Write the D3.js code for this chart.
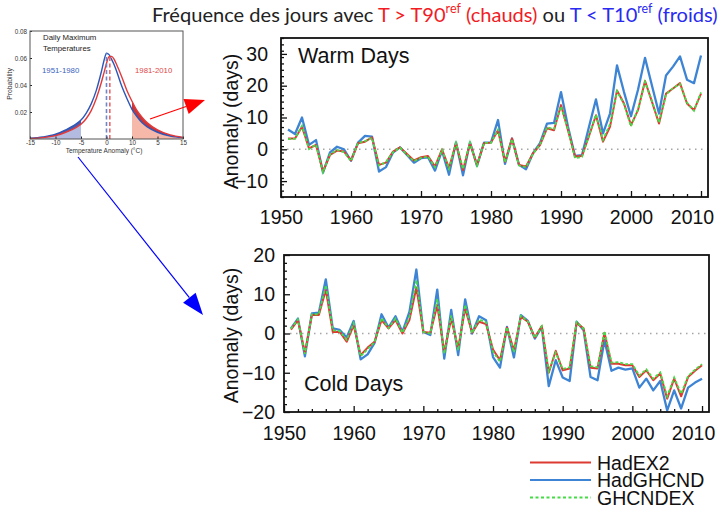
<!DOCTYPE html>
<html>
  <head>
    <meta charset="utf-8">
    <title>Warm and cold days</title>
    <script src="https://d3js.org/d3.v7.min.js"></script>
    <style>
      body { margin: 0; background: #fff; }
      svg { display: block; }
    </style>
  </head>
  <body>
    <div id="vis"></div>
    <script>
      // ---- data ----
      var years = d3.range(1951, 2011);

      var warmHadEX2 = [3.4,3.4,7.1,0.3,1.35,-7.0,-1.8,-0.4,-0.7,-3.5,
        1.9,2.4,3.75,-4.9,-4.2,-0.7,0.6,-1.5,-3.5,-2.5,
        -2.1,-5.4,0,-5.9,1.9,-6.5,1.9,-4.9,1.9,2.1,
        6.0,-3.9,3.4,-4.9,-5.4,-1.25,1.35,6.6,6.0,13.9,
        6.0,-2.3,-2.1,4.2,10.7,2.4,7.1,18.5,14.4,7.6,
        12.3,21.5,14.9,8.1,17.5,19.1,20.8,14.4,12.3,17.5];
      var warmHadGHCND = [6.2,4.8,10.0,1.4,2.9,-7.3,-1.0,0.8,0.0,-3.6,
        2.1,4.2,4.0,-7.0,-5.6,-1.0,0.6,-1.8,-4.2,-2.8,
        -2.5,-6.7,-0.4,-8.0,2.2,-8.2,2.2,-5.2,2.1,2.2,
        9.2,-4.6,3.4,-4.9,-6.25,-1.25,1.9,8.1,8.3,18.0,
        7.1,-2.1,-1.8,7.1,15.7,5.0,11.25,26.4,18.0,10.4,
        18.75,28.75,20.0,11.25,23.2,26.0,29.2,21.9,20.8,29.5];
      var warmGHCNDEX = [3.2,3.3,7.4,0.1,1.5,-7.2,-1.6,-0.2,-0.9,-3.7,
        2.0,2.6,3.6,-5.1,-4.0,-0.9,0.5,-1.7,-3.7,-2.7,
        -2.3,-5.6,-0.2,-6.1,2.0,-6.2,2.1,-5.1,2.0,2.0,
        6.2,-4.1,3.2,-5.1,-5.6,-1.4,1.5,6.9,6.4,13.5,
        6.2,-2.8,-2.4,4.4,10.9,3.0,7.9,18.3,14.2,7.2,
        12.6,21.2,15.1,8.4,17.2,19.3,20.5,14.7,12.1,17.9];

      var coldHadEX2 = [1.0,3.4,-4.9,4.7,4.7,11.1,0.4,0.4,-2.1,2.1,
        -5.5,-3.6,-2.1,3.4,1.3,3.4,0,3.4,11.7,0.4,
        0.2,7.2,-4.7,3.8,-3.8,6.4,0.2,3.0,2.4,-4.1,
        -6.8,1.5,-4.3,4.3,3.0,-1.0,1.9,-10.0,-4.4,-9.4,
        -8.9,2.7,1.3,-8.7,-8.9,0.2,-7.7,-7.7,-8.1,-8.1,
        -11.1,-9.4,-11.9,-10.2,-16.6,-11.5,-16.0,-11.1,-9.5,-8.1];
      var coldHadGHCND = [1.3,3.8,-5.8,5.1,5.3,13.8,1.3,0.9,-1.0,3.2,
        -6.6,-5.3,-2.4,4.9,1.5,4.4,0.4,5.5,16.3,0.4,
        -0.4,11.2,-6.4,6.0,-5.5,8.7,0,4.4,3.4,-6.0,
        -8.7,1.7,-6.1,4.7,3.2,-1.3,1.7,-13.4,-6.8,-11.2,
        -12.1,3.0,0.85,-11.1,-11.9,-1.7,-9.5,-8.7,-9.2,-8.9,
        -13.8,-11.5,-14.5,-12.1,-19.6,-14.5,-19.1,-13.8,-12.5,-11.5];
      var coldGHCNDEX = [1.2,3.6,-5.2,4.9,4.9,12.3,0.8,0.6,-1.6,2.6,
        -5.8,-4.0,-2.2,3.9,1.4,3.8,0.2,4.2,13.6,0.4,
        0.0,8.8,-5.2,4.6,-4.3,7.3,0.1,3.6,2.8,-4.6,
        -7.2,1.6,-4.8,4.5,3.1,-1.1,1.8,-9.6,-4.9,-9.0,
        -8.6,2.9,1.2,-8.3,-8.6,0.6,-7.4,-7.3,-7.8,-7.8,
        -10.7,-9.1,-11.5,-9.9,-16.0,-11.2,-15.4,-10.8,-9.2,-7.8];

      var seriesNames = ["HadEX2", "HadGHCND", "GHCNDEX"];
      var yearTicks = [1950, 1960, 1970, 1980, 1990, 2000, 2010];
      var warmTicks = [-10, 0, 10, 20, 30];
      var coldTicks = [-20, -10, 0, 10, 20];

      // inset: daily maximum temperature distributions
      var tempGrid = [-15,-12.5,-10,-8,-6,-5,-4,-3,-2,-1,-0.5,0,0.5,1,1.5,2,3,4,5,6,7,8,10,12.5,15];
      var prob1951 = [0.0005,0.0015,0.0035,0.0067,0.011,0.014,0.019,0.026,0.036,0.050,0.058,0.0635,0.0625,0.059,0.055,0.050,0.039,0.030,0.022,0.0165,0.012,0.009,0.005,0.0022,0.001];
      var prob1981 = [0.0004,0.001,0.0025,0.005,0.0085,0.011,0.015,0.021,0.030,0.042,0.049,0.056,0.061,0.0612,0.059,0.055,0.046,0.036,0.028,0.021,0.016,0.012,0.0068,0.003,0.0012];
      var periodMeans = [0, 0.65];
      var insetXTicks = [-15, -10, -5, 0, 5, 10, 15];
      var insetXLabels = ["-15", "-10", "-5", "0", "10", "5", "15"];
      var insetYTicks = [0.02, 0.04, 0.06, 0.08];

      var red = "#dd3a32", blue = "#3d84d4", green = "#46dc46";
      var font = "'Liberation Sans', Arial, sans-serif";

      var width = 722, height = 508;
      var svg = d3.select("#vis").append("svg")
        .attr("width", width).attr("height", height);

      // ---- title ----
      var title = svg.append("text")
        .attr("x", 152).attr("y", 22)
        .attr("font-family", "Lato, 'DejaVu Sans', sans-serif")
        .attr("font-size", 19)
        .attr("fill", "#222");
      title.append("tspan").text("Fréquence des jours avec ");
      title.append("tspan").attr("fill", "#f21c24").text("T > T90");
      title.append("tspan").attr("fill", "#f21c24").attr("font-size", "0.62em").attr("dy", "-0.75em").text("ref");
      title.append("tspan").attr("fill", "#f21c24").attr("dy", "0.465em").text(" (chauds)");
      title.append("tspan").text(" ou ");
      title.append("tspan").attr("fill", "#2a2af0").text("T < T10");
      title.append("tspan").attr("fill", "#2a2af0").attr("font-size", "0.62em").attr("dy", "-0.75em").text("ref");
      title.append("tspan").attr("fill", "#2a2af0").attr("dy", "0.465em").text(" (froids)");
      var tw = title.node().getComputedTextLength();
      title.attr("font-size", 19 * 566 / tw);

      // ---- main panels ----
      function drawPanel(p) {
        var x = d3.scaleLinear().domain([1950, 2011]).range([p.left, p.right]);
        var y = d3.scaleLinear().domain(p.yDomain).range([p.bottom, p.top]);
        var g = svg.append("g");

        g.append("line")
          .attr("x1", p.left).attr("x2", p.right)
          .attr("y1", y(0)).attr("y2", y(0))
          .attr("stroke", "#a5a5a5").attr("stroke-width", 1.4)
          .attr("stroke-dasharray", "1.5,4.5");

        var minorYears = d3.range(1952, 2011, 2).filter(function (d) { return d % 10 !== 0; });
        var minorY = d3.range(p.yDomain[0], p.yDomain[1] + 1, 2).filter(function (d) { return d % 10 !== 0; });

        function styleAxis(a) {
          a.select(".domain").remove();
          a.selectAll("line").attr("stroke", "#111").attr("stroke-width", 1.3);
          a.selectAll("text").attr("font-family", font).attr("font-size", 19.5).attr("fill", "#111");
        }

        g.append("g").attr("transform", "translate(0," + p.bottom + ")")
          .call(d3.axisBottom(x).tickValues(minorYears).tickSize(-3).tickFormat(""))
          .call(styleAxis);
        g.append("g").attr("transform", "translate(" + p.left + ",0)")
          .call(d3.axisLeft(y).tickValues(minorY).tickSize(-3).tickFormat(""))
          .call(styleAxis);

        var xa = g.append("g").attr("transform", "translate(0," + p.bottom + ")")
          .call(d3.axisBottom(x).tickValues(yearTicks).tickSize(-6).tickPadding(p.xPad).tickFormat(d3.format("d")))
          .call(styleAxis);
        xa.selectAll(".tick text").filter(function (d) { return d === 2010; }).attr("dx", -9);

        g.append("g").attr("transform", "translate(" + p.left + ",0)")
          .call(d3.axisLeft(y).tickValues(p.yTicks).tickSize(-6).tickPadding(p.yPad))
          .call(styleAxis);

        var line = d3.line()
          .x(function (d, i) { return x(years[i]); })
          .y(function (d) { return y(d); });

        g.append("path").datum(p.series[1]).attr("d", line)
          .attr("fill", "none").attr("stroke", blue).attr("stroke-width", 2.3).attr("stroke-linejoin", "round");
        g.append("path").datum(p.series[0]).attr("d", line)
          .attr("fill", "none").attr("stroke", red).attr("stroke-width", 2).attr("stroke-linejoin", "round");
        g.append("path").datum(p.series[2]).attr("d", line)
          .attr("fill", "none").attr("stroke", green).attr("stroke-width", 1.8)
          .attr("stroke-dasharray", "3,2");

        g.append("rect")
          .attr("x", p.left).attr("y", p.top)
          .attr("width", p.right - p.left).attr("height", p.bottom - p.top)
          .attr("fill", "none").attr("stroke", "#111").attr("stroke-width", 1.8);

        g.append("text")
          .attr("x", p.labelX).attr("y", p.labelY)
          .attr("font-family", font).attr("font-size", 21.5).attr("fill", "#111")
          .text(p.label);

        g.append("text")
          .attr("transform", "translate(231," + ((p.top + p.bottom) / 2 + p.titleShift) + ") rotate(-90)")
          .attr("text-anchor", "middle").attr("dy", "0.35em")
          .attr("font-family", font).attr("font-size", 19.5).attr("fill", "#111")
          .text("Anomaly (days)");
      }

      drawPanel({
        left: 281, right: 708, top: 38, bottom: 197,
        yDomain: [-15, 35], yTicks: warmTicks, yPad: 13, xPad: 13,
        series: [warmHadEX2, warmHadGHCND, warmGHCNDEX],
        label: "Warm Days", labelX: 298, labelY: 63, titleShift: 4
      });
      drawPanel({
        left: 284, right: 709, top: 255, bottom: 412,
        yDomain: [-20, 20], yTicks: coldTicks, yPad: 9, xPad: 14,
        series: [coldHadEX2, coldHadGHCND, coldGHCNDEX],
        label: "Cold Days", labelX: 304, labelY: 391, titleShift: 2
      });

      // ---- legend ----
      var legendColors = [red, blue, green];
      var leg = svg.append("g").selectAll("g").data(seriesNames).enter().append("g")
        .attr("transform", function (d, i) { return "translate(530," + (462.5 + i * 17.5) + ")"; });
      leg.append("line").attr("x1", 0).attr("x2", 61)
        .attr("stroke", function (d, i) { return legendColors[i]; })
        .attr("stroke-width", 2.2)
        .attr("stroke-dasharray", function (d, i) { return i === 2 ? "3,2.5" : null; });
      leg.append("text").attr("x", 67).attr("dy", "0.36em")
        .attr("font-family", font).attr("font-size", 19.5).attr("fill", "#111")
        .text(function (d) { return d; });

      // ---- inset ----
      var ix = d3.scaleLinear().domain([-15, 15]).range([30, 183]);
      var iy = d3.scaleLinear().domain([0, 0.08]).range([139, 31]);
      var inset = svg.append("g");
      var pts = tempGrid.map(function (t, i) { return { t: t, a: prob1951[i], b: prob1981[i] }; });
      var coldTail = pts.filter(function (d) { return d.t <= -5; });
      var warmTail = pts.filter(function (d) { return d.t >= 5; });

      inset.append("path").datum(coldTail)
        .attr("d", d3.area().curve(d3.curveMonotoneX).x(function (d) { return ix(d.t); }).y0(iy(0)).y1(function (d) { return iy(d.b); }))
        .attr("fill", "#b4bbe0");
      inset.append("path").datum(coldTail)
        .attr("d", d3.area().curve(d3.curveMonotoneX).x(function (d) { return ix(d.t); }).y0(function (d) { return iy(d.b); }).y1(function (d) { return iy(d.a); }))
        .attr("fill", "#4b5cab");
      inset.append("path").datum(warmTail)
        .attr("d", d3.area().curve(d3.curveMonotoneX).x(function (d) { return ix(d.t); }).y0(iy(0)).y1(function (d) { return iy(d.a); }))
        .attr("fill", "#f6b8a8");
      inset.append("path").datum(warmTail)
        .attr("d", d3.area().curve(d3.curveMonotoneX).x(function (d) { return ix(d.t); }).y0(function (d) { return iy(d.a); }).y1(function (d) { return iy(d.b); }))
        .attr("fill", "#c8363a");

      inset.append("path").datum(pts)
        .attr("d", d3.line().curve(d3.curveMonotoneX).x(function (d) { return ix(d.t); }).y(function (d) { return iy(d.a); }))
        .attr("fill", "none").attr("stroke", "#2d56b8").attr("stroke-width", 1.4);
      inset.append("path").datum(pts)
        .attr("d", d3.line().curve(d3.curveMonotoneX).x(function (d) { return ix(d.t); }).y(function (d) { return iy(d.b); }))
        .attr("fill", "none").attr("stroke", "#e23a3a").attr("stroke-width", 1.4);

      var meanPeaks = [0.0635, 0.0612];
      var meanColors = ["#6f86c8", "#e86a6a"];
      periodMeans.forEach(function (m, i) {
        inset.append("line")
          .attr("x1", ix(m)).attr("x2", ix(m))
          .attr("y1", iy(0)).attr("y2", iy(meanPeaks[i]))
          .attr("stroke", meanColors[i]).attr("stroke-width", 1.6)
          .attr("stroke-dasharray", "4,2.5");
      });

      var ixa = inset.append("g").attr("transform", "translate(0,139)")
        .call(d3.axisBottom(ix).tickValues(insetXTicks).tickSize(-2.5).tickPadding(2)
          .tickFormat(function (d, i) { return insetXLabels[i]; }));
      var iya = inset.append("g").attr("transform", "translate(30,0)")
        .call(d3.axisLeft(iy).tickValues(insetYTicks).tickSize(-2).tickPadding(3).tickFormat(d3.format(".2f")));
      [ixa, iya].forEach(function (a) {
        a.select(".domain").remove();
        a.selectAll("line").attr("stroke", "#222").attr("stroke-width", 1);
        a.selectAll("text").attr("font-family", font).attr("font-size", 6.3).attr("fill", "#333");
      });

      inset.append("rect").attr("x", 30).attr("y", 31).attr("width", 153).attr("height", 108)
        .attr("fill", "none").attr("stroke", "#555").attr("stroke-width", 1);

      inset.append("text").attr("x", 43).attr("y", 40)
        .attr("font-family", font).attr("font-size", 7.8).attr("fill", "#222").text("Daily Maximum");
      inset.append("text").attr("x", 43).attr("y", 50.5)
        .attr("font-family", font).attr("font-size", 7.8).attr("fill", "#222").text("Temperatures");
      inset.append("text").attr("x", 42).attr("y", 73)
        .attr("font-family", font).attr("font-size", 7.8).attr("fill", "#3a62c0").text("1951-1980");
      inset.append("text").attr("x", 135).attr("y", 73)
        .attr("font-family", font).attr("font-size", 7.8).attr("fill", "#e04848").text("1981-2010");
      inset.append("text").attr("x", 104).attr("y", 153)
        .attr("text-anchor", "middle")
        .attr("font-family", font).attr("font-size", 6.5).attr("fill", "#333").text("Temperature Anomaly (°C)");
      inset.append("text").attr("transform", "translate(10,84) rotate(-90)")
        .attr("text-anchor", "middle").attr("dy", "0.35em")
        .attr("font-family", font).attr("font-size", 6.8).attr("fill", "#333").text("Probability");

      // ---- arrows ----
      function arrow(x1, y1, x2, y2, color, len, half) {
        var ang = Math.atan2(y2 - y1, x2 - x1);
        var bx = x2 - len * Math.cos(ang), by = y2 - len * Math.sin(ang);
        svg.append("line").attr("x1", x1).attr("y1", y1).attr("x2", bx).attr("y2", by)
          .attr("stroke", color).attr("stroke-width", 1.2);
        var pts = [[x2, y2],
          [bx + half * Math.sin(ang), by - half * Math.cos(ang)],
          [bx - half * Math.sin(ang), by + half * Math.cos(ang)]];
        svg.append("polygon").attr("points", pts.map(function (p) { return p.join(","); }).join(" "))
          .attr("fill", color);
      }
      arrow(150, 119, 205, 100, "#ff0000", 20, 8);
      arrow(78, 157, 203, 315, "#0000ff", 22, 8);
    </script>
  </body>
</html>
